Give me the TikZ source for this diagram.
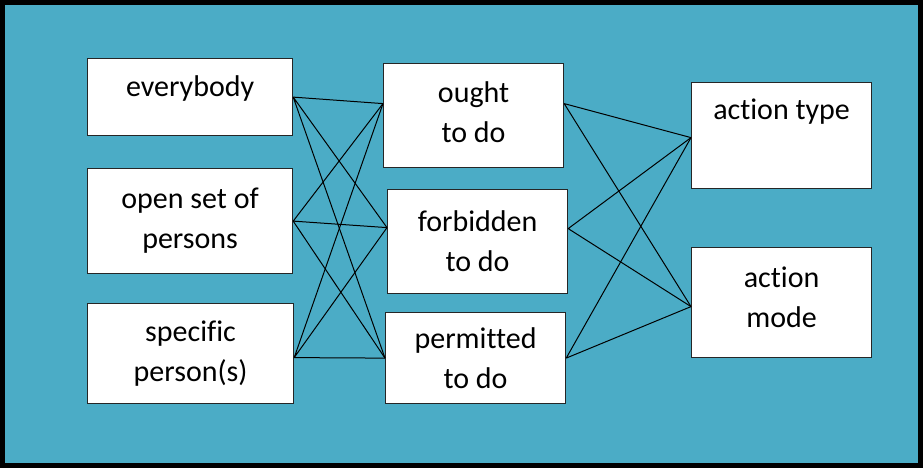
\documentclass[tikz,border=0pt]{standalone}
\usepackage{fontspec}
\setmainfont[Ligatures=NoCommon]{Carlito}
\usetikzlibrary{calc}
\definecolor{panel}{RGB}{75,172,198}

\begin{document}
\begin{tikzpicture}[x=0.5pt,y=-0.5pt,font=\fontsize{15}{20}\selectfont,
	box/.style={draw=black!85,line width=0.6pt,fill=white,anchor=north west,align=center,inner sep=0pt,minimum width=90pt},
	link/.style={line width=0.5pt}]
	\useasboundingbox (0,0) rectangle (923,468);
	\draw[line width=2.5pt,fill=panel] (2.5,2.5) rectangle (920.5,465.5);
	% who
	\node[box,minimum width=102.5pt,minimum height=38.5pt,text height=19pt,text depth=19.5pt] (everybody) at (87,58) {everybody};
	\node[box,minimum width=102.5pt,minimum height=52.5pt] (openset) at (87,168) {open set of\\persons};
	\node[box,minimum width=103pt,minimum height=50pt] (specific) at (87,303) {specific\\person(s)};
	% deontic
	\node[box,minimum height=52pt,text depth=4pt] (ought) at (383,63) {ought\\to do};
	\node[box,minimum height=52pt] (forbidden) at (387,189) {forbidden\\to do};
	\node[box,minimum height=45.5pt,text depth=0pt] (permitted) at (385,312) {permitted\\to do};
	% action
	\node[box,minimum height=53pt,text height=18.5pt,text depth=34.5pt] (acttype) at (691,82) {action type};
	\node[box,minimum height=55pt,text depth=5pt] (actmode) at (691,247) {action\\mode};
	\draw[link] (everybody.east)--([yshift=6pt]ought.west) (everybody.east)--([yshift=7pt]forbidden.west) (everybody.east)--(permitted.west);
	\draw[link] (openset.east)--([yshift=6pt]ought.west) (openset.east)--([yshift=7pt]forbidden.west) (openset.east)--(permitted.west);
	\draw[link] ([yshift=-2pt]specific.east)--([yshift=6pt]ought.west) ([yshift=-2pt]specific.east)--([yshift=7pt]forbidden.west) ([yshift=-2pt]specific.east)--(permitted.west);
	\draw[link] ([yshift=6pt]ought.east)--([yshift=-1pt]acttype.west) ([yshift=6pt]ought.east)--([yshift=-2pt]actmode.west);
	\draw[link] ([yshift=6.5pt]forbidden.east)--([yshift=-1pt]acttype.west) ([yshift=6.5pt]forbidden.east)--([yshift=-2pt]actmode.west);
	\draw[link] (permitted.east)--([yshift=-1pt]acttype.west) (permitted.east)--([yshift=-2pt]actmode.west);
\end{tikzpicture}
\end{document}
